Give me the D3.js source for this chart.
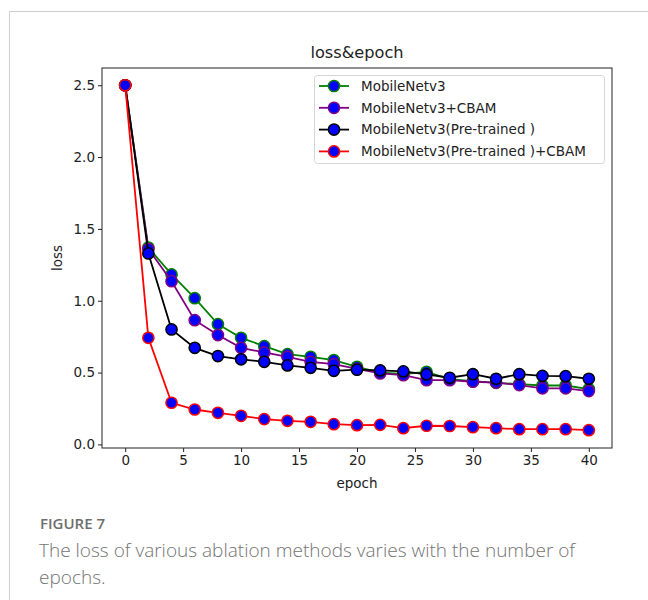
<!DOCTYPE html>
<html>
<head>
<meta charset="utf-8">
<script src="https://cdn.jsdelivr.net/npm/d3@7/dist/d3.min.js"></script>
<style>
  body { margin: 0; background: #fff; }
  svg { display: block; }
  .tick text { font-family: "DejaVu Sans", sans-serif; font-size: 13.5px; fill: #222; }
</style>
</head>
<body>
<svg id="chart" width="648" height="600"></svg>
<script>
// data
var epochs = [0, 2, 4, 6, 8, 10, 12, 14, 16, 18, 20, 22, 24, 26, 28, 30, 32, 34, 36, 38, 40];
var seriesNames = ["MobileNetv3", "MobileNetv3+CBAM", "MobileNetv3(Pre-trained )", "MobileNetv3(Pre-trained )+CBAM"];
var lossMobile = [2.5, 1.37, 1.183, 1.018, 0.837, 0.742, 0.684, 0.628, 0.610, 0.587, 0.540, 0.50, 0.49, 0.505, 0.455, 0.44, 0.429, 0.42, 0.41, 0.41, 0.385];
var lossCbam = [2.5, 1.36, 1.136, 0.865, 0.761, 0.672, 0.640, 0.610, 0.575, 0.559, 0.525, 0.494, 0.482, 0.447, 0.447, 0.436, 0.43, 0.413, 0.39, 0.39, 0.371];
var lossPre = [2.5, 1.329, 0.800, 0.672, 0.615, 0.592, 0.575, 0.550, 0.533, 0.512, 0.520, 0.515, 0.508, 0.487, 0.464, 0.489, 0.457, 0.489, 0.477, 0.475, 0.457];
var lossPreCbam = [2.5, 0.742, 0.290, 0.243, 0.220, 0.199, 0.176, 0.164, 0.157, 0.141, 0.134, 0.136, 0.113, 0.130, 0.128, 0.120, 0.113, 0.106, 0.106, 0.106, 0.099];
var lineColors = ["green", "purple", "black", "red"];
var xTicks = [0, 5, 10, 15, 20, 25, 30, 35, 40];
var yTicks = [0.0, 0.5, 1.0, 1.5, 2.0, 2.5];

var svg = d3.select("#chart");

// 바깥 틀
svg.append("path")
   .attr("d", "M9.5,600 L9.5,11.5 L648,11.5")
   .attr("fill", "none")
   .attr("stroke", "#cfcfcf")
   .attr("stroke-width", 1);

var plotLeft = 102, plotRight = 612, plotTop = 68, plotBottom = 448;

var x = d3.scaleLinear().domain([-2, 42]).range([plotLeft, plotRight]);
var y = d3.scaleLinear().domain([-0.025, 2.62]).range([plotBottom, plotTop]);

// axes
var xAxis = svg.append("g")
   .attr("transform", "translate(0," + plotBottom + ")")
   .call(d3.axisBottom(x).tickValues(xTicks).tickSize(4).tickPadding(3).tickFormat(d3.format("d")));
var yAxis = svg.append("g")
   .attr("transform", "translate(" + plotLeft + ",0)")
   .call(d3.axisLeft(y).tickValues(yTicks).tickSize(4).tickPadding(3).tickFormat(d3.format(".1f")));
[xAxis, yAxis].forEach(function(a){
  a.select(".domain").remove();
  a.selectAll(".tick line").attr("stroke", "#222");
});

// frame of axes
svg.append("rect")
   .attr("x", plotLeft).attr("y", plotTop)
   .attr("width", plotRight - plotLeft).attr("height", plotBottom - plotTop)
   .attr("fill", "none").attr("stroke", "#222").attr("stroke-width", 1);

// title & labels
svg.append("text")
   .attr("x", (plotLeft + plotRight) / 2).attr("y", 58)
   .attr("text-anchor", "middle")
   .attr("font-family", "DejaVu Sans, sans-serif").attr("font-size", 16.2)
   .attr("fill", "#222")
   .text("loss&epoch");
svg.append("text")
   .attr("x", (plotLeft + plotRight) / 2).attr("y", 488)
   .attr("text-anchor", "middle")
   .attr("font-family", "DejaVu Sans, sans-serif").attr("font-size", 13.5)
   .attr("fill", "#222")
   .text("epoch");
svg.append("text")
   .attr("transform", "translate(62," + ((plotTop + plotBottom) / 2) + ") rotate(-90)")
   .attr("text-anchor", "middle")
   .attr("font-family", "DejaVu Sans, sans-serif").attr("font-size", 13.5)
   .attr("fill", "#222")
   .text("loss");

// lines
var allSeries = [lossMobile, lossCbam, lossPre, lossPreCbam];
var line = d3.line()
   .x(function(d, i){ return x(epochs[i]); })
   .y(function(d){ return y(d); });

allSeries.forEach(function(vals, k){
  var g = svg.append("g");
  g.append("path")
   .attr("d", line(vals))
   .attr("fill", "none")
   .attr("stroke", lineColors[k])
   .attr("stroke-width", 1.8);
  g.selectAll("circle")
   .data(vals)
   .enter()
   .append("circle")
   .attr("cx", function(d, i){ return x(epochs[i]); })
   .attr("cy", function(d){ return y(d); })
   .attr("r", 5.6)
   .attr("fill", "blue")
   .attr("stroke", lineColors[k])
   .attr("stroke-width", 1.5);
});

// legend
var lg = svg.append("g");
lg.append("rect")
  .attr("x", 314.5).attr("y", 75.5)
  .attr("width", 290).attr("height", 88)
  .attr("rx", 3)
  .attr("fill", "#fff").attr("fill-opacity", 0.8)
  .attr("stroke", "#d6d6d6");
seriesNames.forEach(function(name, k){
  var yy = 86 + k * 21.8;
  lg.append("line")
    .attr("x1", 319).attr("x2", 349).attr("y1", yy).attr("y2", yy)
    .attr("stroke", lineColors[k]).attr("stroke-width", 1.8);
  lg.append("circle")
    .attr("cx", 334).attr("cy", yy).attr("r", 5.6)
    .attr("fill", "blue").attr("stroke", lineColors[k]).attr("stroke-width", 1.5);
  lg.append("text")
    .attr("x", 361).attr("y", yy + 4.8)
    .attr("font-family", "DejaVu Sans, sans-serif").attr("font-size", 13.5)
    .attr("fill", "#222")
    .text(name);
});

// caption
svg.append("text")
   .attr("x", 40).attr("y", 529)
   .attr("font-family", "Open Sans, sans-serif").attr("font-size", 15).attr("font-weight", 600)
   .attr("fill", "#6e6e6e")
   .text("FIGURE 7");
svg.append("text")
   .attr("x", 39).attr("y", 557)
   .attr("font-family", "Open Sans, sans-serif").attr("font-size", 19).attr("font-weight", 300)
   .attr("fill", "#737373")
   .text("The loss of various ablation methods varies with the number of");
svg.append("text")
   .attr("x", 39).attr("y", 584)
   .attr("font-family", "Open Sans, sans-serif").attr("font-size", 19).attr("font-weight", 300)
   .attr("fill", "#737373")
   .text("epochs.");
</script>
</body>
</html>
